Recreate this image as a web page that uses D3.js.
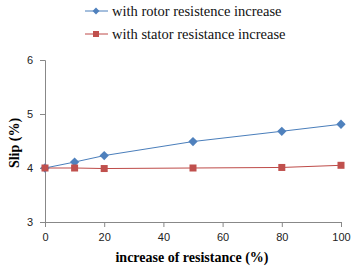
<!DOCTYPE html>
<html>
<head>
<meta charset="utf-8">
<script src="https://cdn.jsdelivr.net/npm/d3@7"></script>
<style>
body { margin: 0; background: #fff; }
</style>
</head>
<body>
<script>

var resistance = [0, 10, 20, 50, 80, 100];
var rotorSlip = [4.0, 4.11, 4.23, 4.49, 4.68, 4.81];
var statorSlip = [4.0, 4.0, 3.99, 4.0, 4.01, 4.05];
var xTicks = [0, 20, 40, 60, 80, 100];
var yTicks = [3, 4, 5, 6];

var svg = d3.select("body").append("svg")
    .attr("width", 363)
    .attr("height", 275)

var x = d3.scaleLinear().domain([0, 100]).range([45, 341]);
var y = d3.scaleLinear().domain([3, 6]).range([222, 60]);

var axisColor = "#888";

// axes
var gx = svg.append("g")
  .attr("transform", "translate(0," + y(3) + ")")
  .call(d3.axisBottom(x).tickValues(xTicks).tickFormat(d3.format("d")).tickSize(5).tickPadding(6));

var gy = svg.append("g")
  .attr("transform", "translate(" + x(0) + ",0)")
  .call(d3.axisLeft(y).tickValues(yTicks).tickFormat(d3.format("d")).tickSize(5).tickPadding(7));

[gx, gy].forEach(function(g){
  g.select(".domain").attr("stroke", axisColor);
  g.selectAll(".tick line").attr("stroke", axisColor);
  g.selectAll(".tick text")
    .attr("font-family", "Liberation Sans, Arial, sans-serif")
    .attr("font-size", 11)
    .attr("fill", "#222");
});

// lines
var line = d3.line()
  .x(function(d, i){ return x(resistance[i]) })
  .y(function(d){ return y(d) });

svg.append("path")
  .datum(rotorSlip)
  .attr("d", line)
  .attr("fill", "none")
  .attr("stroke", "#4a7ebb")
  .attr("stroke-width", 1);

svg.append("path")
  .datum(statorSlip)
  .attr("d", line)
  .attr("fill", "none")
  .attr("stroke", "#be4b48")
  .attr("stroke-width", 1);

// markers
var diamond = d3.symbol().type(d3.symbolDiamond2).size(55);

svg.selectAll('.rotor')
  .data(rotorSlip)
  .enter()
  .append('path')
  .attr('transform', function(d, i){ return "translate(" + x(resistance[i]) + "," + y(d) + ")" })
  .attr('d', diamond)
  .style('fill', "#4f81bd");

svg.selectAll('.stator')
  .data(statorSlip)
  .enter()
  .append('rect')
  .attr('x', function(d, i){ return x(resistance[i]) - 3.5 })
  .attr('y', function(d){ return y(d) - 3.5 })
  .attr('width', 7)
  .attr('height', 7)
  .style('fill', "#c0504d");

// legend
var legend = [
  { label: "with rotor resistence increase", color: "#4a7ebb", fill: "#4f81bd", sym: "d" },
  { label: "with stator resistance increase", color: "#be4b48", fill: "#c0504d", sym: "s" }
];

legend.forEach(function(l, i){
  var ly = 11 + i * 23;
  svg.append("line")
    .attr("x1", 85).attr("x2", 108)
    .attr("y1", ly).attr("y2", ly)
    .attr("stroke", l.color);
  if (l.sym === "d") {
    svg.append("path")
      .attr("transform", "translate(96," + ly + ")")
      .attr("d", d3.symbol().type(d3.symbolDiamond2).size(30))
      .style("fill", l.fill);
  } else {
    svg.append("rect")
      .attr("x", 93).attr("y", ly - 3)
      .attr("width", 6).attr("height", 6)
      .style("fill", l.fill);
  }
  svg.append("text")
    .attr("x", 112).attr("y", ly + 4.5)
    .attr("font-family", "Liberation Serif, Times New Roman, serif")
    .attr("font-size", 14.5)
    .attr("fill", "#111")
    .text(l.label);
});

// axis titles
svg.append("text")
  .attr("x", 192).attr("y", 262)
  .attr("text-anchor", "middle")
  .attr("font-family", "Liberation Serif, Times New Roman, serif")
  .attr("font-weight", "bold")
  .attr("font-size", 14)
  .text("increase of resistance (%)");

svg.append("text")
  .attr("transform", "translate(19,143) rotate(-90)")
  .attr("text-anchor", "middle")
  .attr("font-family", "Liberation Serif, Times New Roman, serif")
  .attr("font-weight", "bold")
  .attr("font-size", 14)
  .text("Slip (%)");

</script>
</body>
</html>
